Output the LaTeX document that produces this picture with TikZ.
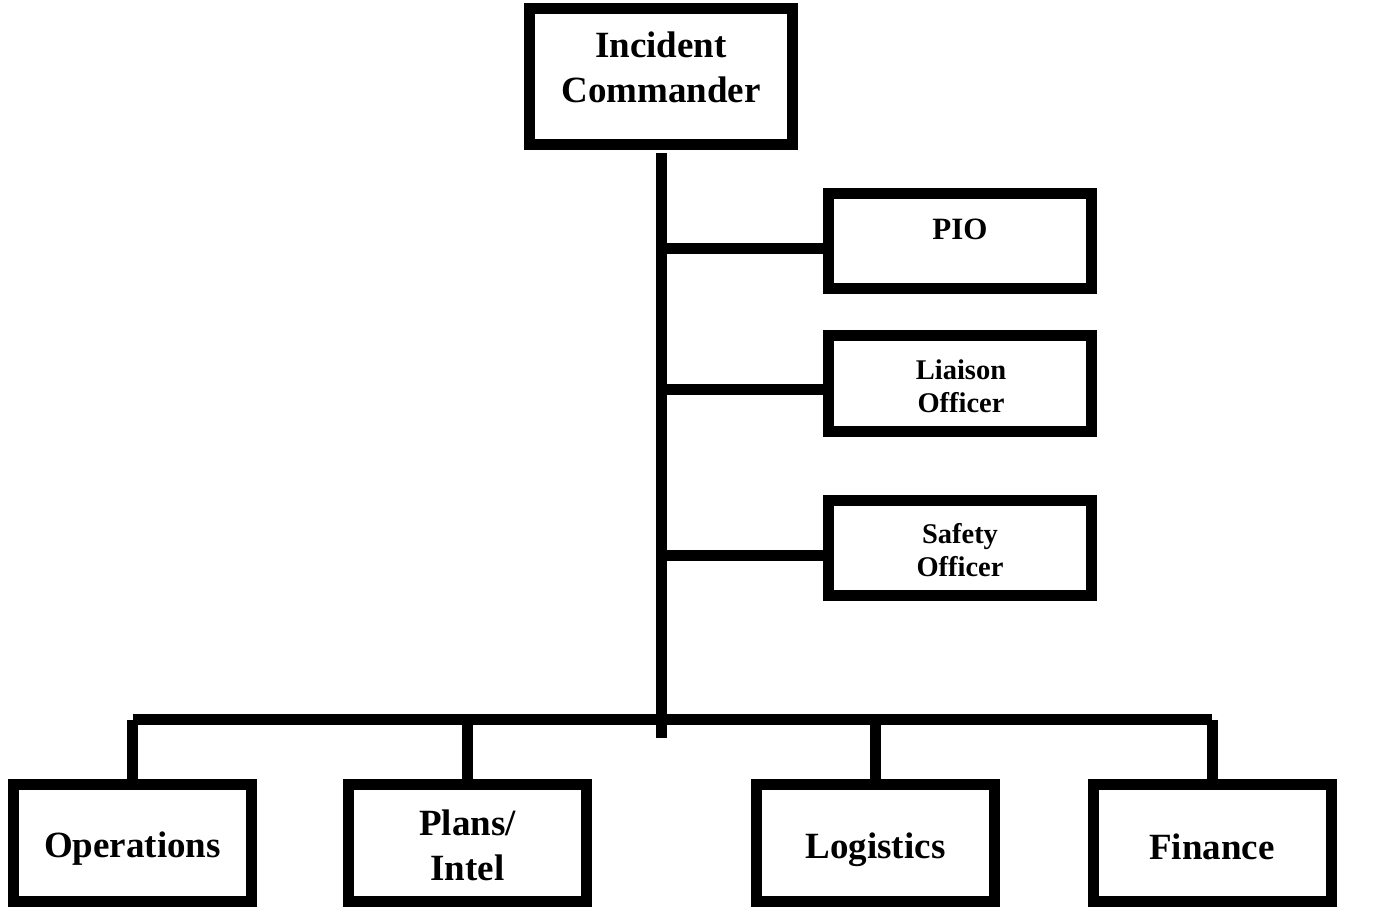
\documentclass[tikz,border=0pt]{standalone}
\usepackage{fontspec}
\setmainfont{Liberation Serif}
\usetikzlibrary{calc}
\begin{document}
\begin{tikzpicture}[x=1pt,y=-1pt,
  wire/.style={line width=11pt,draw=black},
  unitbox/.style={draw=black,line width=11pt,fill=white,inner sep=0pt,
    minimum width=263pt},
  sidebox/.style={unitbox,minimum height=95pt},
  sectbox/.style={unitbox,minimum width=238pt,minimum height=117pt},
  bigtxt/.style={align=center,inner sep=0pt,font=\bfseries\fontsize{37}{45}\selectfont},
  midtxt/.style={align=center,inner sep=0pt,font=\bfseries\fontsize{31}{38}\selectfont},
  smalltxt/.style={align=center,inner sep=0pt,font=\bfseries\fontsize{28.5}{33}\selectfont}]
\useasboundingbox (0,0) rectangle (1398,907);

% boxes
\node[unitbox,minimum height=136pt] (ic) at (661,76.5) {};
\node[sidebox] (pio) at (960,241) {};
\node[sidebox,minimum height=96pt] (lno) at (960,383.5) {};
\node[sidebox] (sfo) at (960,548) {};
\node[sectbox] (ops) at (132.5,843) {};
\node[sectbox] (pln) at (467.5,843) {};
\node[sectbox] (log) at (875.5,843) {};
\node[sectbox] (fin) at (1212,843) {};

% labels
\node[bigtxt] (ict) at (661,67) {Incident\\Commander};
\node[midtxt] (piot) at (960,229) {PIO};
\node[smalltxt] (lnot) at (961,386) {Liaison\\Officer};
\node[smalltxt] (sfot) at (960,550) {Safety\\Officer};
\node[bigtxt] (opst) at (132.5,849) {Operations};
\node[bigtxt] (plnt) at (467.5,845) {Plans/\\Intel};
\node[bigtxt] (logt) at (875.5,850) {Logistics};
\node[bigtxt] (fint) at (1212,847) {Finance};

% connectors
\coordinate (trunktop) at (661,153);
\coordinate (trunkend) at (661,738);
\coordinate (busL) at (132.5,719.5);
\coordinate (busR) at (1212,719.5);
\draw[wire] (trunktop) -- (trunkend);
\draw[wire] (trunktop |- pio.west) ++(0,7.5) coordinate (b1) -- (b1 -| pio.west);
\draw[wire] (trunktop |- lno.west) ++(0,6) coordinate (b2) -- (b2 -| lno.west);
\draw[wire] (trunktop |- sfo.west) ++(0,7.5) coordinate (b3) -- (b3 -| sfo.west);
\draw[wire,line cap=square] (busL) -- (busR);
\draw[wire] (busL) -- (ops.north);
\draw[wire] (busL -| pln.north) -- (pln.north);
\draw[wire] (busL -| log.north) -- (log.north);
\draw[wire] (busR) -- (fin.north);
\end{tikzpicture}
\end{document}
